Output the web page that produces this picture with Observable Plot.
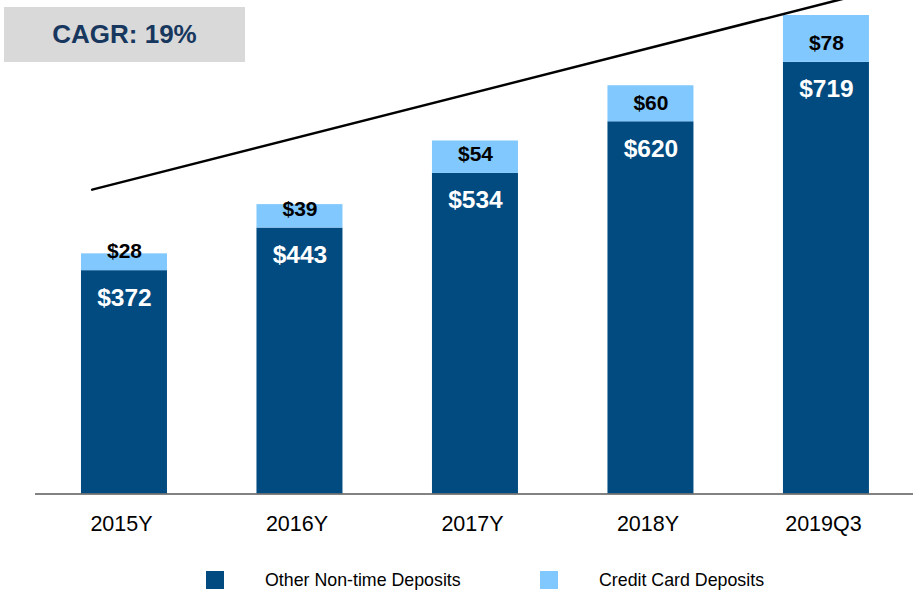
<!DOCTYPE html>
<html>
<head>
<meta charset="utf-8">
<script src="https://cdn.jsdelivr.net/npm/d3@7"></script>
<script src="https://cdn.jsdelivr.net/npm/@observablehq/plot@0.6"></script>
<style>
  html, body { margin: 0; padding: 0; background: #fff; }
  #wrap { position: relative; width: 921px; height: 590px; font-family: "Liberation Sans", Arial, sans-serif; overflow: hidden; }
  #cagr { position: absolute; left: 4px; top: 7px; width: 241px; height: 55px; background: #d9d9d9;
          color: #17375e; font-weight: bold; font-size: 26px; display: flex; align-items: center; justify-content: center; }
  #legend { position: absolute; top: 571px; left: 0; width: 921px; height: 19px; font-size: 17.8px; color: #000; }
  .sw { position: absolute; top: 0; width: 18px; height: 18px; }
  .lt { position: absolute; top: 0; line-height: 19px; white-space: nowrap; }
  svg { overflow: visible; }
</style>
</head>
<body>
<div id="wrap">
  <div id="chart"></div>
  <div id="cagr"></div>
  <div id="legend"></div>
</div>
<script>
const categories = ["2015Y", "2016Y", "2017Y", "2018Y", "2019Q3"];
const otherDeposits = [372, 443, 534, 620, 719];
const cardDeposits = [28, 39, 54, 60, 78];
const seriesNames = ["Other Non-time Deposits", "Credit Card Deposits"];
const cagrLabel = "CAGR: 19%";
// trend arrow drawn in data space (bar index, $ value)
const trendIndex = [-0.184, 4.165];
const trendValue = [507, 830];

const darkBlue = "#024b80";
const lightBlue = "#80c8fd";
const font = "'Liberation Sans', Arial, sans-serif";

const data = categories.map((c, i) => ({ i, cat: c, other: otherDeposits[i], card: cardDeposits[i] }));
const trend = trendIndex.map((x, k) => ({ x, y: trendValue[k] }));
const half = 0.245;

const chart = Plot.plot({
  width: 921,
  height: 552,
  marginLeft: 35,
  marginRight: 8,
  marginTop: 0,
  marginBottom: 58,
  style: { fontFamily: font, background: "transparent", overflow: "visible" },
  x: { type: "linear", domain: [-0.507, 4.496], range: [35, 913] },
  y: { domain: [0, 797], range: [493.5, 15], axis: null },
  marks: [
    Plot.rectY(data, { x1: d => d.i - half, x2: d => d.i + half, y1: 0, y2: "other", fill: darkBlue }),
    Plot.rectY(data, { x1: d => d.i - half, x2: d => d.i + half, y1: "other", y2: d => d.other + d.card, fill: lightBlue }),
    Plot.ruleY([0], { stroke: "#595959", strokeWidth: 1.6 }),
    Plot.line(trend, { x: "x", y: "y", stroke: "#000", strokeWidth: 2.5 }),
    Plot.text(data, { x: "i", y: "other", text: d => "$" + d.card, dy: -19, fontSize: 21, fontWeight: "bold", fill: "#000" }),
    Plot.text(data, { x: "i", y: "other", text: d => "$" + d.other, dy: 27, fontSize: 24.5, fontWeight: "bold", fill: "#fff" }),
    Plot.axisX({ ticks: [0, 1, 2, 3, 4], tickFormat: i => categories[i], tickSize: 0, tickPadding: 21, fontSize: 21.5, dx: -3, label: null, fill: "#000" })
  ]
});
document.getElementById("chart").appendChild(chart);
document.getElementById("cagr").textContent = cagrLabel;

const legend = document.getElementById("legend");
const items = [
  { name: seriesNames[0], color: darkBlue, sx: 206, tx: 265 },
  { name: seriesNames[1], color: lightBlue, sx: 540, tx: 599 }
];
for (const it of items) {
  const s = document.createElement("div");
  s.className = "sw"; s.style.left = it.sx + "px"; s.style.background = it.color;
  const t = document.createElement("div");
  t.className = "lt"; t.style.left = it.tx + "px"; t.textContent = it.name;
  legend.appendChild(s); legend.appendChild(t);
}
</script>
</body>
</html>
